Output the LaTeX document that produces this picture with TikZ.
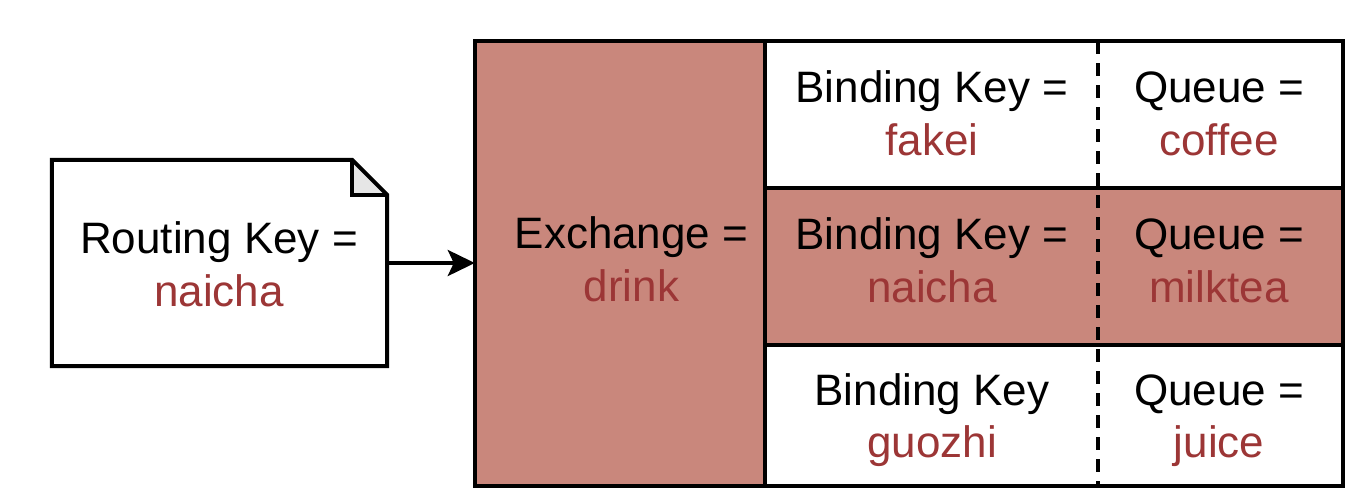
\documentclass[tikz,border=0pt]{standalone}
\usepackage{fontspec}
\setmainfont{Liberation Sans}
\usetikzlibrary{arrows.meta}
\definecolor{cellred}{RGB}{201,135,124}
\definecolor{valred}{RGB}{156,54,54}
\definecolor{foldgray}{RGB}{230,230,230}
\begin{document}
\begin{tikzpicture}[x=1pt,y=-1pt,
  border/.style={line width=4pt,line join=miter},
  lbl/.style={inner sep=0pt,anchor=base,font=\fontsize{44}{53}\selectfont},
  val/.style={lbl,text=valred},
  box/.style={inner sep=0pt,minimum width=#1},
  dash line/.style={line width=3.8pt,dash pattern=on 13pt off 9pt}]
\useasboundingbox (0,0) rectangle (1365,501);

% routing key note
\node[box=335pt,minimum height=206pt] (rk) at (219.5,263) {};
\coordinate (f1) at ([xshift=-35pt]rk.north east);
\coordinate (f2) at ([xshift=-35pt,yshift=-35pt]rk.north east);
\coordinate (f3) at ([yshift=-35pt]rk.north east);
\fill[white] (rk.north west) -- (f1) -- (f3) -- (rk.south east) -- (rk.south west) -- cycle;
\draw[border,fill=foldgray] (f1) -- (f2) -- (f3);
\draw[border] (rk.north west) -- (f1) -- (f3) -- (rk.south east) -- (rk.south west) -- cycle;
\node[lbl] (rk1) at (219,253) {Routing Key =};
\node[val] (rk2) at (219,306) {naicha};

% frame and cells
\node[box=868pt,minimum height=445pt] (fr) at (909,263.5) {};
\node[box=290pt,minimum height=445pt,fill=cellred] (ex) at (620,263.5) {};
\node[box=578pt,minimum height=157pt,fill=cellred] (mid) at (1054,266.5) {};
\coordinate (rowa) at (765,188);
\coordinate (rowb) at (765,345);
\coordinate (dtop) at (1098,41);
\coordinate (dbot) at (1098,486);
\draw[border] (ex.north east) -- (ex.south east);
\draw[border] (rowa) -- (rowa -| fr.east);
\draw[border] (rowb) -- (rowb -| fr.east);
\draw[dash line] (dtop) -- (dbot);
\draw[border] (fr.north west) rectangle (fr.south east);

% texts
\node[lbl] (ex1) at (631.5,248) {Exchange =};
\node[val] (ex2) at (631.5,301) {drink};

\node[lbl] (b1) at (932,102) {Binding Key =};
\node[val] (b1v) at (932,155) {fakei};
\node[lbl] (q1) at (1219,102) {Queue =};
\node[val] (q1v) at (1219,155) {coffee};

\node[lbl] (b2) at (932,249) {Binding Key =};
\node[val] (b2v) at (932,302) {naicha};
\node[lbl] (q2) at (1219,249) {Queue =};
\node[val] (q2v) at (1219,302) {milktea};

\node[lbl] (b3) at (932,405) {Binding Key};
\node[val] (b3v) at (932,457) {guozhi};
\node[lbl] (q3) at (1219,405) {Queue =};
\node[val] (q3v) at (1219,457) {juice};

% arrow
\draw[line width=3.8pt,-{Stealth[length=27pt,width=26pt,inset=6pt]}] (rk.east) -- (rk.east -| fr.west);
\end{tikzpicture}
\end{document}
